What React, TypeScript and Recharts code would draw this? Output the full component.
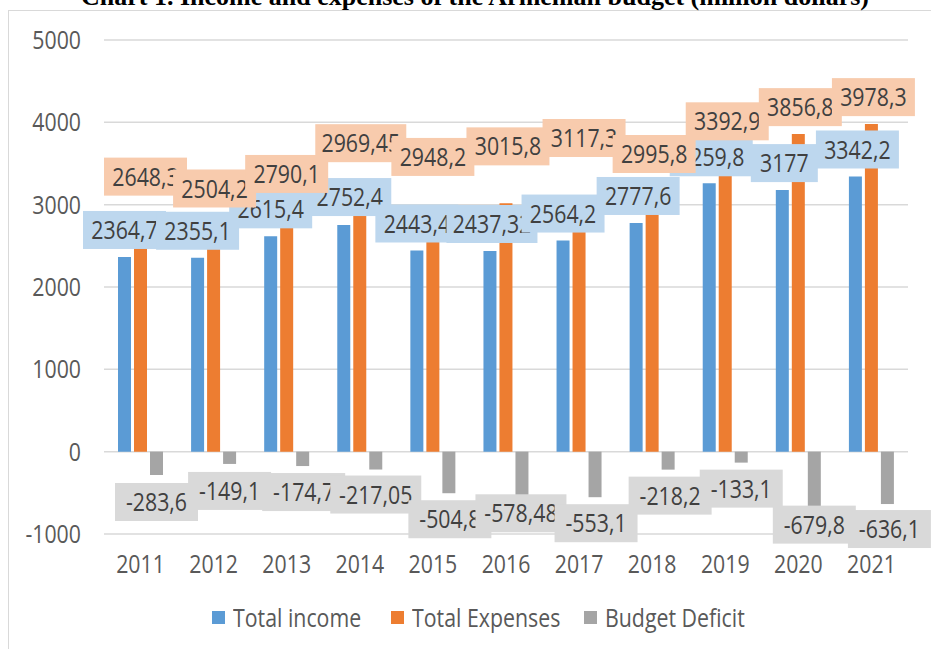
import React from "react";
import {
  BarChart,
  Bar,
  XAxis,
  YAxis,
  CartesianGrid,
  Legend,
  LabelList,
} from "recharts";

const YEARS = ["2011", "2012", "2013", "2014", "2015", "2016", "2017", "2018", "2019", "2020", "2021"];
const TOTAL_INCOME = [2364.7, 2355.1, 2615.4, 2752.4, 2443.4, 2437.32, 2564.2, 2777.6, 3259.8, 3177, 3342.2];
const TOTAL_EXPENSES = [2648.3, 2504.2, 2790.1, 2969.45, 2948.2, 3015.8, 3117.3, 2995.8, 3392.9, 3856.8, 3978.3];
const BUDGET_DEFICIT = [-283.6, -149.1, -174.7, -217.05, -504.8, -578.48, -553.1, -218.2, -133.1, -679.8, -636.1];
const Y_TICKS = [-1000, 0, 1000, 2000, 3000, 4000, 5000];

// label nudges (px), the boxes were dragged by hand in the original
const INCOME_DY = [-27, -27, -27, -28, -27, -27, -27, -27, -26, -27, -27];
const INCOME_DX = [0, 0, 0, 6, 0, 2, 0, 2, 2, 2, 2];
const EXPENSE_DY = [-57, -57, -48, -64, -52, -57, -57, -51, -51, -27, -27];
const EXPENSE_DX = [5, 1, 0, 1, 0, 2, 5, 2, 2, 2, 2];
const DEFICIT_DY = [27, 27, 26, 25, 26, 14, 26, 26, 26, 17, 25];
const DEFICIT_DX = [0, 0, 1, 0, 1, -1, 1, 2, 0, 0, 2];

const data = YEARS.map((year, i) => ({
  year,
  income: TOTAL_INCOME[i],
  expenses: TOTAL_EXPENSES[i],
  deficit: BUDGET_DEFICIT[i],
}));

const FONT = "'Open Sans', sans-serif";
const SQUEEZE = 0.82; // the original text is a narrow (Calibri-like) face
const BLUE = "#5B9BD5";
const ORANGE = "#ED7D31";
const GRAY = "#A5A5A5";

const NarrowText = ({ x, y, anchor, dy, fill, children }: any) => (
  <text
    transform={`translate(${x},${y}) scale(${SQUEEZE},1)`}
    x={0}
    y={0}
    dy={dy}
    textAnchor={anchor}
    fill={fill}
    fontSize={26}
    fontFamily={FONT}
  >
    {children}
  </text>
);

const boxLabel = (fill: string, dys: number[], dxs: number[], fromBottom: boolean) => (props: any) => {
  const vb = props.viewBox || props;
  const x = vb.x ?? props.x;
  const y = vb.y ?? props.y;
  const w = vb.width ?? props.width;
  const h = vb.height ?? props.height;
  const idx = props.index ?? 0;
  const top = Math.min(y, y + h);
  const bottom = Math.max(y, y + h);
  const cx = x + w / 2 + (dxs[idx] || 0);
  const cy = (fromBottom ? bottom : top) + (dys[idx] || 0);
  const text = String(props.value).replace(".", ",");
  const bw = 35 + 8 * text.length;
  const bh = 38;
  return (
    <g>
      <rect x={cx - bw / 2} y={cy - bh / 2} width={bw} height={bh} fill={fill} />
      <NarrowText x={cx} y={cy} dy="0.35em" anchor="middle" fill="#404040">
        {text}
      </NarrowText>
    </g>
  );
};

const XTick = (props: any) => (
  <NarrowText x={props.x} y={props.y} dy="0.71em" anchor="middle" fill="#595959">
    {props.payload.value}
  </NarrowText>
);

const YTick = (props: any) => (
  <NarrowText x={props.x} y={props.y} dy="0.35em" anchor="end" fill="#595959">
    {props.payload.value}
  </NarrowText>
);

const legendItems = [
  { label: "Total income", color: BLUE, left: 212 },
  { label: "Total Expenses", color: ORANGE, left: 391 },
  { label: "Budget Deficit", color: GRAY, left: 584 },
];

const renderLegend = () => (
  <div style={{ position: "relative", height: 60 }}>
    {legendItems.map((it) => (
      <div key={it.label} style={{ position: "absolute", left: it.left, top: 22, height: 13 }}>
        <span
          style={{ position: "absolute", left: 0, top: 0, width: 13, height: 13, background: it.color }}
        />
        <span
          style={{
            position: "absolute",
            left: 21,
            top: -12,
            whiteSpace: "nowrap",
            fontFamily: FONT,
            fontSize: 26,
            lineHeight: "36px",
            color: "#595959",
            transform: `scale(${SQUEEZE},1)`,
            transformOrigin: "left center",
          }}
        >
          {it.label}
        </span>
      </div>
    ))}
  </div>
);

export default function App() {
  return (
    <div
      style={{
        position: "absolute",
        left: 0,
        top: 0,
        width: 931,
        height: 649,
        overflow: "hidden",
        background: "#fff",
      }}
    >
      <div
        style={{
          position: "absolute",
          left: 8,
          top: 10,
          width: 923,
          height: 639,
          borderLeft: "1px solid #D9D9D9",
          borderTop: "1px solid #D9D9D9",
        }}
      />
      <div
        style={{
          position: "absolute",
          left: 0,
          width: 950,
          top: -16,
          textAlign: "center",
          fontFamily: "'Liberation Serif', 'Times New Roman', serif",
          fontWeight: "bold",
          fontSize: 26,
          lineHeight: "26px",
          color: "#000",
          whiteSpace: "nowrap",
        }}
      >
        Chart 1. Income and expenses of the Armenian budget (million dollars)
      </div>
      <div style={{ position: "absolute", left: 0, top: 0 }}>
        <BarChart
          width={931}
          height={649}
          data={data}
          margin={{ top: 40, right: 23, left: 44, bottom: 0 }}
          barGap={3}
        >
          <CartesianGrid vertical={false} stroke="#D9D9D9" strokeWidth={1.5} />
          <XAxis
            dataKey="year"
            axisLine={false}
            tickLine={false}
            tickSize={0}
            tickMargin={21}
            height={55}
            interval={0}
            tick={<XTick />}
          />
          <XAxis xAxisId="lbl" dataKey="year" hide />
          <YAxis
            domain={[-1000, 5000]}
            ticks={Y_TICKS}
            axisLine={false}
            tickLine={false}
            tickSize={0}
            tickMargin={23}
            width={60}
            interval={0}
            tick={<YTick />}
          />
          <Bar dataKey="income" name="Total income" fill={BLUE} barSize={13} isAnimationActive={false} />
          <Bar dataKey="expenses" name="Total Expenses" fill={ORANGE} barSize={13} isAnimationActive={false} />
          <Bar dataKey="deficit" name="Budget Deficit" fill={GRAY} barSize={13} isAnimationActive={false} />
          <Bar xAxisId="lbl" dataKey="income" fill="none" barSize={13} legendType="none" isAnimationActive={false}>
            <LabelList dataKey="income" content={boxLabel("#BDD7EE", INCOME_DY, INCOME_DX, false)} />
          </Bar>
          <Bar xAxisId="lbl" dataKey="expenses" fill="none" barSize={13} legendType="none" isAnimationActive={false}>
            <LabelList dataKey="expenses" content={boxLabel("#F8CBAD", EXPENSE_DY, EXPENSE_DX, false)} />
          </Bar>
          <Bar xAxisId="lbl" dataKey="deficit" fill="none" barSize={13} legendType="none" isAnimationActive={false}>
            <LabelList dataKey="deficit" content={boxLabel("#D9D9D9", DEFICIT_DY, DEFICIT_DX, true)} />
          </Bar>
          <Legend verticalAlign="bottom" height={60} wrapperStyle={{ left: 0, width: 931 }} content={renderLegend} />
        </BarChart>
      </div>
    </div>
  );
}
